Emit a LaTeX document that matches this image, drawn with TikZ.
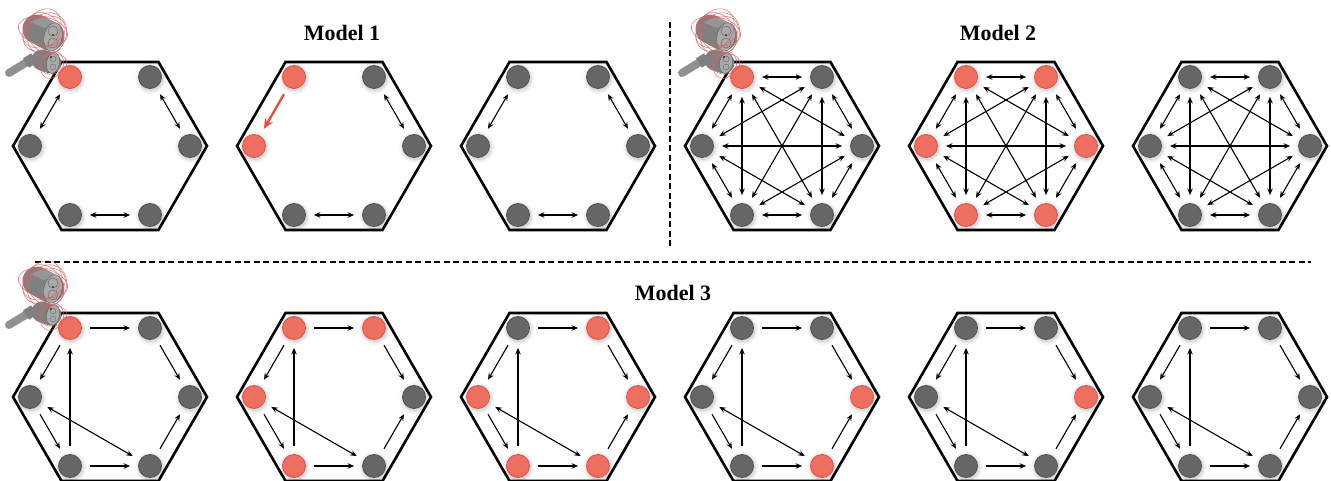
\documentclass[tikz,border=0pt]{standalone}
\usepackage{fontspec}
\setmainfont{Liberation Serif}
\usetikzlibrary{arrows.meta}

\definecolor{rfill}{RGB}{238,110,96}
\definecolor{rline}{RGB}{214,84,72}
\definecolor{gfill}{RGB}{102,102,102}
\definecolor{gline}{RGB}{82,82,82}
\definecolor{arrowred}{RGB}{226,82,68}
\definecolor{fieldred}{RGB}{222,96,96}
\definecolor{drumgray}{RGB}{128,128,128}
\definecolor{facegray}{RGB}{170,170,170}
\definecolor{edgegray}{RGB}{92,92,92}
\definecolor{shaftgray}{RGB}{145,145,145}

\tikzset{
  hexline/.style={draw=black, line width=2.6pt, line join=miter},
  dot/.style={circle, minimum size=23pt, inner sep=0pt, fill=#1fill, draw=#1line, line width=0.8pt},
  arr/.style={-{Stealth[length=6.5pt,width=5.5pt]}, line width=1.1pt, shorten >=8pt, shorten <=8pt},
  dbl/.style={arr, {Stealth[length=6.5pt,width=5.5pt]}-{Stealth[length=6.5pt,width=5.5pt]}},
  redarr/.style={-{Stealth[length=10pt,width=9pt]}, line width=2.4pt, draw=arrowred, fill=arrowred, shorten >=8pt, shorten <=8pt},
  title/.style={font=\bfseries\fontsize{22}{26}\selectfont, inner sep=0pt},
  sep/.style={line width=1.4pt, dash pattern=on 6pt off 3.5pt},
  fieldline/.style={draw=fieldred, line width=0.6pt, opacity=0.8},
}

% one circle with its soft shadow
\newcommand\placedot[3]{%
  \fill[black, opacity=0.04, shift={(0.8,1.4)}] (#2) circle (15.5pt);
  \fill[black, opacity=0.05, shift={(0.8,1.4)}] (#2) circle (13.8pt);
  \fill[black, opacity=0.06, shift={(0.8,1.4)}] (#2) circle (12.6pt);
  \node[dot=#3] (#1) at (#2) {};}

% hexagonal frame with six circles: name, centre x, centre y, colours TL TR L R BL BR
\newcommand\hexcell[9]{%
  \begin{scope}[shift={(#2,#3)}]
    \draw[hexline] (-48.5,-84) -- (48.5,-84) -- (97,0) -- (48.5,84) -- (-48.5,84) -- (-97,0) -- cycle;
    \placedot{#1tl}{-40,-69}{#4}
    \placedot{#1tr}{40,-69}{#5}
    \placedot{#1l}{-80,0}{#6}
    \placedot{#1r}{80,0}{#7}
    \placedot{#1bl}{-40,69}{#8}
    \placedot{#1br}{40,69}{#9}
  \end{scope}}

% gripper motor (two stacked drums and a shaft) with its red field lines
\newcommand\motoricon[2]{%
  \begin{scope}[shift={(#1,#2)}]
    % shaft and collar
    \draw[shaftgray, line width=8pt, line cap=round] (9,73) -- (32,59);
    \draw[drumgray, line width=11pt] (26,63) -- (34,58);
    % lower drum
    \draw[drumgray, line width=21pt, line cap=round] (42,60) -- (51,63);
    \filldraw[fill=facegray, draw=edgegray, line width=0.4pt, rotate around={-10:(53,63)}] (53,63) ellipse (6.5pt and 10.5pt);
    \draw[edgegray, line width=0.3pt] (53,59) circle (3pt) (53,67) circle (3pt);
    % upper drum
    \draw[drumgray, line width=29pt, line cap=round] (37,29) -- (50,36);
    \fill[white, opacity=0.18] (30,22) -- (46,16) -- (58,22) -- (44,28) -- cycle;
    \filldraw[fill=facegray, draw=edgegray, line width=0.4pt, rotate around={-12:(53,37)}] (53,37) ellipse (9pt and 14.5pt);
    \draw[edgegray, line width=0.4pt] (53,31) circle (5pt) (53,43) circle (5pt);
    \fill[black] (53,35) circle (0.9pt) (51,57) circle (0.9pt);
    % field lines
    \draw[fieldline, rotate around={20:(44,32)}] (44,32) ellipse (22pt and 15pt);
    \draw[fieldline, rotate around={-12:(43,31)}] (43,31) ellipse (25pt and 14pt);
    \draw[fieldline, rotate around={35:(45,33)}] (45,33) ellipse (17pt and 22pt);
    \draw[fieldline, rotate around={55:(42,30)}] (42,30) ellipse (23pt and 17pt);
    \draw[fieldline, rotate around={-30:(47,34)}] (47,34) ellipse (19pt and 22pt);
    \draw[fieldline, rotate around={10:(53,64)}] (53,64) ellipse (14pt and 10pt);
    \draw[fieldline, rotate around={-25:(52,65)}] (52,65) ellipse (11pt and 14pt);
  \end{scope}}

\begin{document}
\begin{tikzpicture}[x=1pt, y=-1pt]
  \useasboundingbox (0,0) rectangle (1331,481);
  \clip (0,0) rectangle (1331,481);
  \fill[white] (0,0) rectangle (1331,481);

  % titles and separators
  \node[title] (m1) at (342,33) {Model 1};
  \node[title] (m2) at (998,33) {Model 2};
  \node[title] (m3) at (673,293) {Model 3};
  \draw[sep] (670,22) -- (670,246);
  \draw[sep] (35,262) -- (1311,262);

  % ---- Model 1 ----
  \hexcell{a}{110}{146}{r}{g}{g}{g}{g}{g}
  \draw[dbl] (atl) -- (al);
  \draw[dbl] (atr) -- (ar);
  \draw[dbl] (abl) -- (abr);

  \hexcell{b}{334}{146}{r}{g}{r}{g}{g}{g}
  \draw[redarr] (btl) -- (bl);
  \draw[dbl] (btr) -- (br);
  \draw[dbl] (bbl) -- (bbr);

  \hexcell{c}{558}{146}{g}{g}{g}{g}{g}{g}
  \draw[dbl] (ctl) -- (cl);
  \draw[dbl] (ctr) -- (cr);
  \draw[dbl] (cbl) -- (cbr);

  % ---- Model 2 ----
  \hexcell{d}{782}{146}{r}{g}{g}{g}{g}{g}
  \hexcell{e}{1006}{146}{r}{r}{r}{r}{r}{r}
  \hexcell{f}{1230}{146}{g}{g}{g}{g}{g}{g}
  \foreach \p in {d,e,f}
    \foreach \u/\v in {tl/tr, tl/l, tl/r, tl/bl, tl/br, tr/l, tr/r, tr/bl, tr/br, l/r, l/bl, l/br, r/bl, r/br, bl/br}
      \draw[dbl] (\p\u) -- (\p\v);

  % ---- Model 3 ----
  \hexcell{g}{110}{397}{r}{g}{g}{g}{g}{g}
  \hexcell{h}{334}{397}{r}{r}{r}{g}{r}{g}
  \hexcell{i}{558}{397}{g}{r}{r}{r}{r}{r}
  \hexcell{j}{782}{397}{g}{g}{g}{r}{g}{r}
  \hexcell{k}{1006}{397}{g}{g}{g}{r}{g}{g}
  \hexcell{m}{1230}{397}{g}{g}{g}{g}{g}{g}
  \foreach \p in {g,h,i,j,k,m}{
    \draw[arr] (\p tl) -- (\p tr);
    \draw[arr] (\p tr) -- (\p r);
    \draw[arr] (\p br) -- (\p r);
    \draw[arr] (\p bl) -- (\p br);
    \draw[arr] (\p l) -- (\p bl);
    \draw[arr] (\p tl) -- (\p l);
    \draw[arr] (\p bl) -- (\p tl);
    \draw[dbl] (\p l) -- (\p br);
  }

  % gripper motors
  \motoricon{0}{0}
  \motoricon{673}{0}
  \motoricon{0}{252}
\end{tikzpicture}
\end{document}
